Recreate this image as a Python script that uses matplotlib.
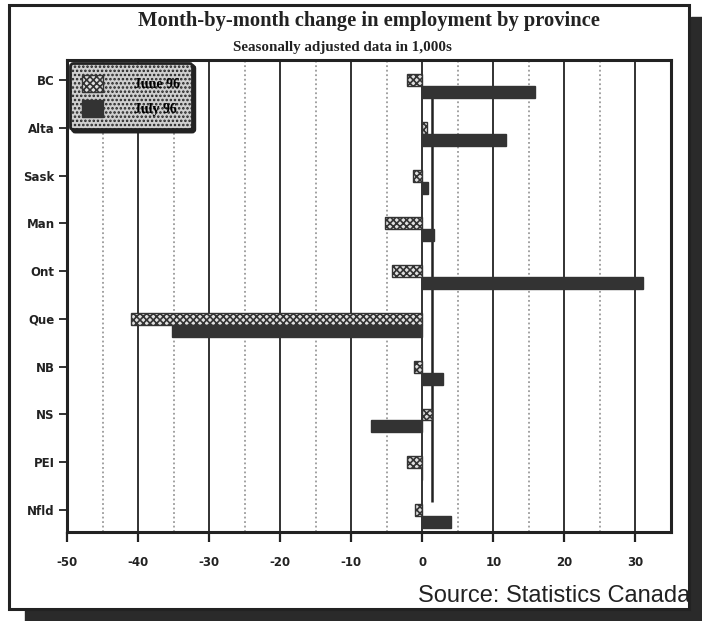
import matplotlib
matplotlib.use("Agg")
import matplotlib.pyplot as plt
from matplotlib.patches import Rectangle, Patch
import numpy as np

provinces = ["BC", "Alta", "Sask", "Man", "Ont", "Que", "NB", "NS", "PEI", "Nfld"]
june96 = [-2.2, 0.7, -1.3, -5.2, -4.2, -41.0, -1.1, 1.4, -2.1, -1.0]
july96 = [15.8, 11.8, 0.8, 1.7, 31.0, -35.2, 2.9, -7.2, 0.0, 4.1]
series_labels = ["June 96", "July 96"]
xticks = [-50, -40, -30, -20, -10, 0, 10, 20, 30]
title = "Month-by-month change in employment by province"
subtitle = "Seasonally adjusted data in 1,000s"
source = "Source: Statistics Canada"
stray_line_x = 1.4

W, H = 702, 621
fig = plt.figure(figsize=(W / 100, H / 100), dpi=100)
fig.patch.set_facecolor("white")

def fx(px):
    return px / W
def fy(py):
    return 1 - py / H

# outer frame with drop shadow
fig.patches.append(Rectangle((fx(691), fy(621)), fx(11), fy(17) - fy(621),
                             transform=fig.transFigure, color="#2a2a2a", zorder=0))
fig.patches.append(Rectangle((fx(25), fy(621)), fx(677), fy(610) - fy(621),
                             transform=fig.transFigure, color="#2a2a2a", zorder=0))
fig.patches.append(Rectangle((fx(9), fy(609)), fx(680), fy(5) - fy(609),
                             transform=fig.transFigure, facecolor="none",
                             edgecolor="#222222", lw=2.2, zorder=1))

ax = fig.add_axes([fx(67), fy(532), fx(671) - fx(67), fy(60) - fy(532)])

y = np.arange(len(provinces))
h = 0.25
dark = "#333333"
plt.rcParams["hatch.linewidth"] = 1.2

ax.barh(y, june96, height=h, color="#e0e0e0", edgecolor=dark, hatch="xxxxx",
        lw=1.0, zorder=3, label=series_labels[0])
ax.barh(y + h, july96, height=h, color=dark, edgecolor=dark, lw=1.0,
        zorder=3, label=series_labels[1])

ax.set_xlim(-50, 35)
ax.set_ylim(len(provinces) - 1 + 0.46, -0.42)

# grid
for v in range(-40, 40, 10):
    ax.axvline(v, color="#222222", lw=1.3, zorder=1)
for v in range(-45, 35, 10):
    ax.axvline(v, color="#9a9a9a", lw=1.3, ls=(0, (1, 1.5)), zorder=1)
ax.vlines(stray_line_x, 0.38, 8.83, color="#222222", lw=1.8, zorder=2)

ax.set_xticks(xticks)
ax.set_xticklabels([str(t) for t in xticks])
ax.set_yticks(y)
ax.set_yticklabels(provinces)
ax.tick_params(axis="x", direction="out", length=7, width=1.6, pad=10,
               labelsize=8.5, colors="#222222")
ax.tick_params(axis="y", direction="out", length=6, width=1.3, pad=3,
               labelsize=8.5, colors="#222222")
for lab in ax.get_xticklabels() + ax.get_yticklabels():
    lab.set_fontweight("bold")
for s in ax.spines.values():
    s.set_linewidth(2.2)
    s.set_color("#222222")

leg = ax.legend(handles=[Patch(facecolor="#e0e0e0", edgecolor=dark, hatch="xxxxx"),
                         Patch(facecolor=dark, edgecolor=dark)],
                labels=series_labels, loc="upper left",
                bbox_to_anchor=(0.0, 1.0), borderaxespad=0.2,
                fancybox=True, shadow={"color": "#222222", "alpha": 1},
                framealpha=1,
                prop={"family": "Liberation Serif", "weight": "bold", "size": 10},
                handlelength=1.5, handleheight=1.5, labelspacing=0.55,
                borderpad=0.9, handletextpad=2.2)
fr = leg.get_frame()
fr.set_facecolor("#cfcfcf")
fr.set_edgecolor("#222222")
fr.set_linewidth(2)
fr.set_hatch("....")
leg.set_zorder(5)

axc = (67 + 671) / 2
fig.text(fx(axc), fy(21), title, ha="center", va="center",
         family="Liberation Serif", weight="bold", size=14.8, color="#222222")
fig.text(fx(axc - 27), fy(47), subtitle, ha="center", va="center",
         family="Liberation Serif", weight="bold", size=10.8, color="#222222")
fig.text(fx(690), fy(596), source, ha="right", va="center",
         family="Liberation Sans", size=17, color="#222222")

fig.savefig("out.png", dpi=100)
